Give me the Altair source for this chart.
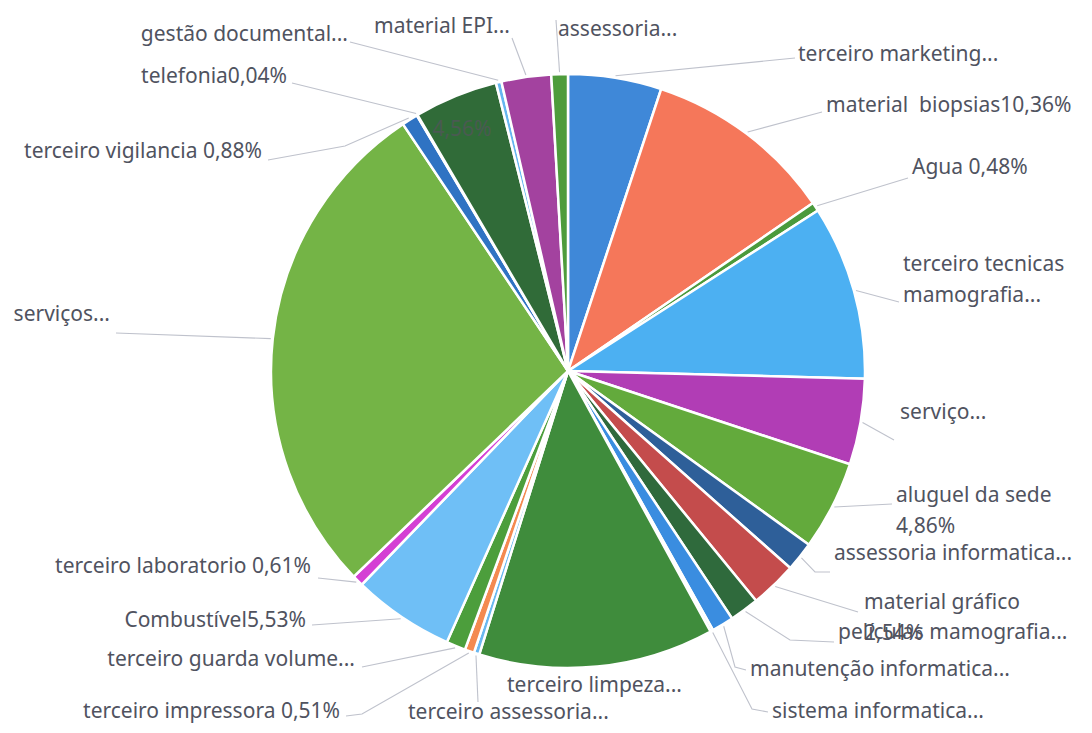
import math
import altair as alt
import pandas as pd

# ---- data (clockwise from 12 o'clock) ----
categories = [
    "terceiro marketing", "material biopsias", "Agua", "terceiro tecnicas mamografia",
    "serviço", "aluguel da sede", "assessoria informatica", "material gráfico",
    "películas mamografia", "manutenção informatica", "sistema informatica",
    "terceiro limpeza", "terceiro assessoria", "terceiro impressora",
    "terceiro guarda volume", "Combustível", "terceiro laboratorio", "serviços",
    "terceiro vigilancia", "telefonia", "outros", "gestão documental",
    "material EPI", "assessoria",
]
shares = [
    5.08, 10.36, 0.48, 9.50,
    4.67, 4.86, 1.60, 2.54,
    1.60, 1.20, 0.15,
    12.80, 0.30, 0.51,
    1.05, 5.53, 0.61, 27.80,
    0.88, 0.04, 4.56, 0.30,
    2.70, 0.90,
]
labels = [
    "terceiro marketing...", "material\u00a0 biopsias10,36%", "Agua 0,48%", "terceiro tecnicas\nmamografia...",
    "serviço...", "aluguel da sede\n4,86%", "assessoria informatica...", "material gráfico\n2,54%",
    "películas mamografia...", "manutenção informatica...", "sistema informatica...",
    "terceiro limpeza...", "terceiro assessoria...", "terceiro impressora 0,51%",
    "terceiro guarda volume...", "Combustível5,53%", "terceiro laboratorio 0,61%", "serviços...",
    "terceiro vigilancia 0,88%", "telefonia0,04%", "4,56%", "gestão documental...",
    "material EPI...", "assessoria...",
]
colors = [
    "#3f88d8", "#f5775a", "#4a9a3c", "#4cb0f2",
    "#b13db5", "#63aa3c", "#2e5f99", "#c44c4c",
    "#2f6a3c", "#3a8de0", "#bcdcf0",
    "#3f8c3c", "#6ab8f0", "#f48a50",
    "#4c9e3c", "#6fbff6", "#d43fd4", "#74b446",
    "#2f73c3", "#8fbfe0", "#306b38", "#66b6f0",
    "#a3429f", "#4e9c3c",
]

# ---- layout (page pixel coords) ----
OFF = 8
CX, CY, R = 568, 371, 297
label_layout = [
    (798, 55, "left"), (826, 106, "left"), (912, 168, "left"), (903, 265, "left"),
    (900, 413, "left"), (896, 496, "left"), (834, 554, "left"), (864, 603, "left"),
    (838, 633, "left"), (750, 670, "left"), (772, 712, "left"),
    (507, 686, "left"), (408, 713, "left"), (340, 712, "right"),
    (355, 660, "right"), (306, 621, "right"), (311, 567, "right"), (110, 315, "right"),
    (262, 152, "right"), (287, 77, "right"), (462, 130, "center"), (348, 35, "right"),
    (510, 27, "right"), (558, 30, "left"),
]
leaders = [
    [(795, 58)], [(822, 112)], [(908, 178)], [(899, 302)],
    [(894, 440)], [(892, 504)], [(815, 572), (830, 572)], [(858, 612)],
    [(790, 640), (834, 642)], [(735, 667), (746, 670)], [(752, 709), (768, 712)],
    None, [(478, 702)], [(362, 714), (346, 716)],
    [(362, 667)], [(312, 625)], [(318, 578)], [(116, 333)],
    [(345, 146), (268, 160)], [(292, 83)], None, [(350, 42)],
    [(512, 38)], [(556, 20)],
]

df = pd.DataFrame({"idx": range(len(categories)), "cat": categories, "value": shares})

total = sum(shares)
rows_lbl, rows_line = [], []
cum = 0.0
for i, v in enumerate(shares):
    mid = (cum + v / 2) / total * 2 * math.pi
    cum += v
    lx, ly, al = label_layout[i]
    rows_lbl.append({"lid": i, "text": labels[i], "px": lx - OFF, "py": ly - OFF, "al": al})
    if leaders[i] is not None:
        sx = CX + (R + 2) * math.sin(mid)
        sy = CY - (R + 2) * math.cos(mid)
        pts = [(sx, sy)] + leaders[i]
        for k, (px, py) in enumerate(pts):
            rows_line.append({"lid": i, "ord": k, "px": px - OFF, "py": py - OFF})

lbl = pd.DataFrame(rows_lbl)
lines = pd.DataFrame(rows_line)

pie = alt.Chart(df).mark_arc(radius=R, stroke="white", strokeWidth=2.5).encode(
    theta=alt.Theta("value:Q", stack=True),
    color=alt.Color("cat:N", scale=alt.Scale(domain=categories, range=colors), legend=None),
    order=alt.Order("idx:Q"),
    x=alt.value(CX - OFF),
    y=alt.value(CY - OFF),
)

lead = alt.Chart(lines).mark_line(color="#bfc2cc", strokeWidth=1.1).encode(
    x=alt.X("px:Q", scale=None, axis=None),
    y=alt.Y("py:Q", scale=None, axis=None),
    detail="lid:N",
    order="ord:Q",
)

def text_layer(align, color="#50535f"):
    d = lbl[lbl["al"] == align]
    return alt.Chart(d).mark_text(
        align=align, baseline="middle", font="Noto Sans", fontSize=21,
        color=color, lineBreak="\n", lineHeight=31,
    ).encode(
        x=alt.X("px:Q", scale=None, axis=None),
        y=alt.Y("py:Q", scale=None, axis=None),
        text="text:N",
    )

chart = alt.layer(
    pie, lead, text_layer("left"), text_layer("right"), text_layer("center", "#4a5a52")
).properties(
    width=1076, height=717, padding=0, autosize=alt.AutoSizeParams(type="none")
).configure(background="white").configure_view(stroke=None)

chart.save("out.html", embed_options={"renderer": "svg", "actions": False})
